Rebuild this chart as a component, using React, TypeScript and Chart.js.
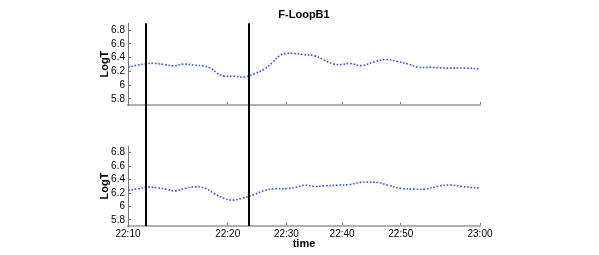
import React, { useEffect, useRef } from "react";
import { Chart, registerables } from "chart.js";

Chart.register(...registerables);

// x values are sample indices along the time axis
const topX = [0, 3.2, 6.2, 8.9, 12.3, 15.7, 19.1, 22.6, 26, 28.3, 30.5, 32.8, 36.2, 39.7, 43.1, 46.5, 49.3, 51.6, 53.9, 56.2, 59.6, 63.6, 66.4, 69.8, 72.7, 75.6, 79.7, 84.1, 88.1, 92.1, 95.5, 98.9, 103.5, 109.2, 114.9, 120];
const topLogT = [6.262, 6.29, 6.31, 6.315, 6.3, 6.28, 6.305, 6.29, 6.276, 6.243, 6.17, 6.13, 6.128, 6.117, 6.165, 6.233, 6.33, 6.425, 6.46, 6.46, 6.445, 6.425, 6.373, 6.31, 6.3, 6.315, 6.283, 6.34, 6.373, 6.34, 6.305, 6.26, 6.257, 6.247, 6.247, 6.237];

const botX = [0, 3.2, 6.6, 10, 13.4, 16.3, 19.1, 22.6, 26, 29.4, 32.8, 35.7, 39.1, 43.1, 46.5, 49.9, 54.5, 57.3, 60.2, 63.6, 67, 71.6, 75.6, 79, 85.2, 88.6, 93.2, 97.8, 101.2, 105.7, 109.7, 113.7, 120];
const botLogT = [6.239, 6.262, 6.287, 6.277, 6.253, 6.233, 6.268, 6.292, 6.277, 6.194, 6.12, 6.095, 6.125, 6.18, 6.239, 6.262, 6.268, 6.287, 6.317, 6.298, 6.307, 6.317, 6.327, 6.357, 6.357, 6.317, 6.268, 6.258, 6.258, 6.302, 6.32, 6.298, 6.273];

const markerX = [6.2, 41.3];

const xTickValues = [0, 34, 54, 73, 93, 120];
const xTickLabels = ["22:10", "22:20", "22:30", "22:40", "22:50", "23:00"];
const yTickValues = [5.8, 6, 6.2, 6.4, 6.6, 6.8];
const yTickLabels = ["5.8", "6", "6.2", "6.4", "6.6", "6.8"];

const X_MIN = 0;
const X_MAX = 120;
const Y_MIN = 5.71;
const Y_MAX = 6.9;

const FONT = "'Liberation Sans', Arial, Helvetica, sans-serif";
const LINE_COLOR = "#2f4fff";

function makeVlines(mode: "top" | "bottom") {
  return {
    id: "vlines",
    afterDatasetsDraw(chart: any) {
      const { ctx, chartArea } = chart;
      const x = chart.scales.x;
      ctx.save();
      ctx.strokeStyle = "#000";
      ctx.lineWidth = 2;
      for (const v of markerX) {
        const px = Math.round(x.getPixelForValue(v));
        ctx.beginPath();
        ctx.moveTo(px, mode === "top" ? chartArea.top : 0);
        ctx.lineTo(px, mode === "top" ? chart.height : chartArea.bottom);
        ctx.stroke();
      }
      ctx.restore();
    },
  };
}

function buildConfig(mode: "top" | "bottom"): any {
  const xs = mode === "top" ? topX : botX;
  const ys = mode === "top" ? topLogT : botLogT;
  return {
    type: "line",
    data: {
      datasets: [
        {
          data: xs.map((x, i) => ({ x, y: ys[i] })),
          borderColor: LINE_COLOR,
          borderWidth: 1.6,
          borderDash: [1.6, 1.8],
          pointRadius: 0,
          tension: 0.4,
          fill: false,
        },
      ],
    },
    options: {
      animation: false,
      responsive: false,
      layout: {
        padding: { left: 96, right: 119, top: mode === "top" ? 0 : 26, bottom: 0 },
      },
      plugins: {
        legend: { display: false },
        tooltip: { enabled: false },
        title: {
          display: mode === "top",
          text: "F-LoopB1",
          fullSize: false,
          color: "#000",
          font: { family: FONT, size: 11, weight: "bold" },
          padding: { top: 8, bottom: 2 },
        },
      },
      scales: {
        x: {
          type: "linear",
          min: X_MIN,
          max: X_MAX,
          afterFit: (s: any) => {
            s.height = mode === "top" ? 15 : 29;
          },
          afterBuildTicks: (s: any) => {
            s.ticks = xTickValues.map((v) => ({ value: v }));
          },
          ticks: {
            display: mode === "bottom",
            autoSkip: false,
            maxRotation: 0,
            color: "#000",
            padding: 5,
            font: { family: FONT, size: 10 },
            callback: (v: any) => {
              const i = xTickValues.indexOf(Number(v));
              return i >= 0 ? xTickLabels[i] : "";
            },
          },
          grid: {
            drawOnChartArea: false,
            drawTicks: true,
            tickLength: -3,
            color: "#777",
          },
          border: { display: true, color: "#b0b0b0", width: 2 },
          title: {
            display: mode === "bottom",
            text: "time",
            color: "#000",
            font: { family: FONT, size: 11, weight: "bold" },
            padding: { top: 0, bottom: 4 },
          },
        },
        y: {
          type: "linear",
          min: Y_MIN,
          max: Y_MAX,
          afterFit: (s: any) => {
            s.width = 32;
          },
          afterBuildTicks: (s: any) => {
            s.ticks = yTickValues.map((v) => ({ value: v }));
          },
          ticks: {
            color: "#000",
            padding: 6,
            font: { family: FONT, size: 10 },
            callback: (v: any) => {
              const i = yTickValues.findIndex((t) => Math.abs(t - Number(v)) < 1e-6);
              return i >= 0 ? yTickLabels[i] : "";
            },
          },
          grid: {
            drawOnChartArea: false,
            drawTicks: true,
            tickLength: -3,
            color: "#777",
          },
          border: { display: true, color: "#777", width: 1 },
          title: {
            display: true,
            text: "LogT",
            color: "#000",
            font: { family: FONT, size: 11, weight: "bold" },
            padding: { top: 2, bottom: 0 },
          },
        },
      },
    },
    plugins: [makeVlines(mode)],
  };
}

export default function App() {
  const topRef = useRef<HTMLCanvasElement>(null);
  const botRef = useRef<HTMLCanvasElement>(null);

  useEffect(() => {
    const c1 = new Chart(topRef.current as HTMLCanvasElement, buildConfig("top"));
    const c2 = new Chart(botRef.current as HTMLCanvasElement, buildConfig("bottom"));
    return () => {
      c1.destroy();
      c2.destroy();
    };
  }, []);

  return (
    <div style={{ position: "fixed", left: 0, top: 0, width: 599, height: 255, background: "#fff" }}>
      <canvas
        ref={topRef}
        width={599}
        height={120}
        style={{ position: "absolute", left: 0, top: 0, width: 599, height: 120 }}
      />
      <canvas
        ref={botRef}
        width={599}
        height={135}
        style={{ position: "absolute", left: 0, top: 120, width: 599, height: 135 }}
      />
    </div>
  );
}
